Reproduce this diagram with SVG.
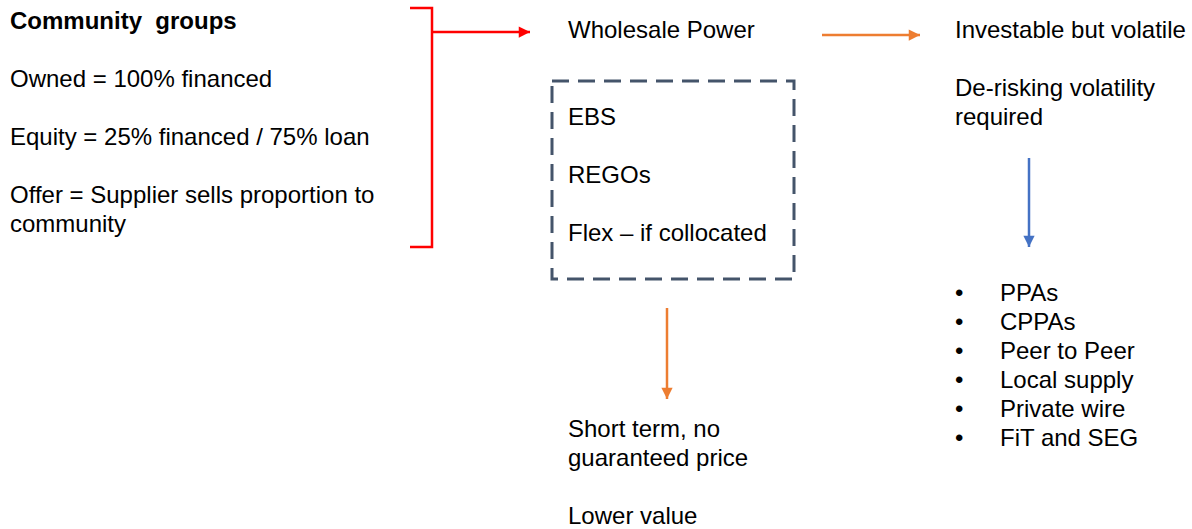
<svg xmlns="http://www.w3.org/2000/svg" width="1192" height="529" viewBox="0 0 1192 529">
  <style>
    text { font-family: "Liberation Sans", Arial, sans-serif; font-size: 24px; fill: #000; }
    .bold { font-weight: bold; }
    .red { stroke: #FF0000; stroke-width: 2.5; fill: none; }
    .orange { stroke: #ED7D31; stroke-width: 2.5; fill: none; }
    .blue { stroke: #4472C4; stroke-width: 2.5; fill: none; }
    .dash { stroke: #44546A; stroke-width: 3; fill: none; stroke-dasharray: 17 9; }
  </style>
  <defs>
    <marker id="ahRed" viewBox="0 0 10 10" refX="10" refY="5" markerWidth="5" markerHeight="4.5" markerUnits="strokeWidth" orient="auto">
      <path d="M0 0 L10 5 L0 10 Z" fill="#FF0000"/>
    </marker>
    <marker id="ahOrange" viewBox="0 0 10 10" refX="10" refY="5" markerWidth="5" markerHeight="4.5" markerUnits="strokeWidth" orient="auto">
      <path d="M0 0 L10 5 L0 10 Z" fill="#ED7D31"/>
    </marker>
    <marker id="ahBlue" viewBox="0 0 10 10" refX="10" refY="5" markerWidth="5" markerHeight="4.5" markerUnits="strokeWidth" orient="auto">
      <path d="M0 0 L10 5 L0 10 Z" fill="#4472C4"/>
    </marker>
  </defs>

  <g id="community-groups">
    <text x="10" y="29" class="bold">Community&#160; groups</text>
    <text x="10" y="87">Owned = 100% financed</text>
    <text x="10" y="145">Equity = 25% financed / 75% loan</text>
    <text x="10" y="203">Offer = Supplier sells proportion to</text>
    <text x="10" y="232">community</text>
  </g>

  <g id="wholesale-power">
    <text x="568" y="38">Wholesale Power</text>
  </g>

  <g id="extras-box">
    <rect x="552" y="81" width="242" height="198" class="dash"/>
    <text x="568" y="125">EBS</text>
    <text x="568" y="183">REGOs</text>
    <text x="568" y="241">Flex – if collocated</text>
  </g>

  <g id="investable">
    <text x="955" y="38">Investable but volatile</text>
    <text x="955" y="96">De-risking volatility</text>
    <text x="955" y="125">required</text>
  </g>

  <g id="short-term">
    <text x="568" y="437">Short term, no</text>
    <text x="568" y="466">guaranteed price</text>
    <text x="568" y="524">Lower value</text>
  </g>

  <g id="options">
    <text x="955" y="301">•</text><text x="1000" y="301">PPAs</text>
    <text x="955" y="330">•</text><text x="1000" y="330">CPPAs</text>
    <text x="955" y="359">•</text><text x="1000" y="359">Peer to Peer</text>
    <text x="955" y="388">•</text><text x="1000" y="388">Local supply</text>
    <text x="955" y="417">•</text><text x="1000" y="417">Private wire</text>
    <text x="955" y="446">•</text><text x="1000" y="446">FiT and SEG</text>
  </g>

  <g id="connectors">
    <path d="M410 8 H432 V247 H410" class="red"/>
    <line x1="432" y1="32" x2="530" y2="32" class="red" marker-end="url(#ahRed)"/>
    <line x1="822" y1="35" x2="920" y2="35" class="orange" marker-end="url(#ahOrange)"/>
    <line x1="1029" y1="158" x2="1029" y2="247" class="blue" marker-end="url(#ahBlue)"/>
    <line x1="667" y1="308" x2="667" y2="399" class="orange" marker-end="url(#ahOrange)"/>
  </g>
</svg>
